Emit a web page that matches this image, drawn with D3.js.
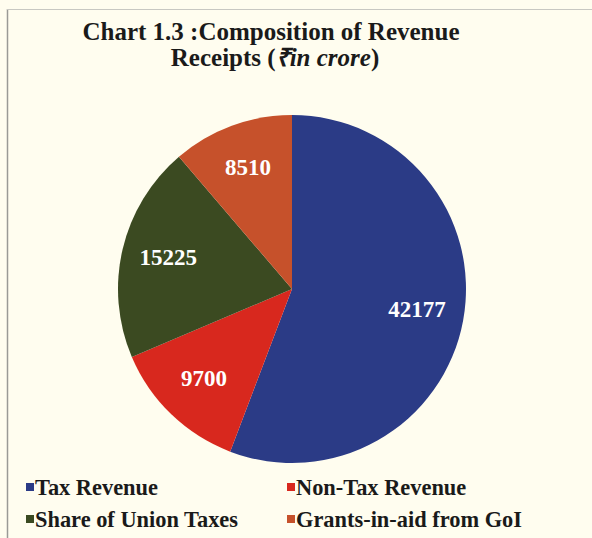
<!DOCTYPE html>
<html>
<head>
    <meta charset="utf-8">
    <title>Chart 1.3</title>
    <style>
        body { margin: 0; background: #fffdef; }
        svg { display: block; }
        .title { font-family: "Liberation Serif", "Times New Roman", serif; font-weight: bold; fill: #1a1a1a; }
        .label { font-family: "Liberation Serif", "Times New Roman", serif; font-weight: bold; fill: #ffffff; }
        .legend text { font-family: "Liberation Serif", "Times New Roman", serif; font-weight: bold; fill: #1a1a1a; }
    </style>
    <script src="https://cdn.jsdelivr.net/npm/d3@7"></script>
</head>
<body>
<script>
    const categories = ["Tax Revenue", "Non-Tax Revenue", "Share of Union Taxes", "Grants-in-aid from GoI"];
    const values = [42177, 9700, 15225, 8510];
    const colors = ["#2b3b86", "#d8281e", "#3b4a21", "#c6512b"];

    const width = 592,
        height = 538,
        cx = 292,
        cy = 289,
        radius = 174;

    const svg = d3.select('body').append('svg')
        .attr('width', width)
        .attr('height', height);

    svg.append('rect')
        .attr('width', width)
        .attr('height', height)
        .attr('fill', '#fffdef');

    // frame lines (left and top only visible)
    svg.append('line')
        .attr('x1', 7.5).attr('y1', 9).attr('x2', 7.5).attr('y2', height)
        .attr('stroke', '#9a9a96').attr('stroke-width', 1.5);
    svg.append('line')
        .attr('x1', 7).attr('y1', 9.5).attr('x2', width).attr('y2', 9.5)
        .attr('stroke', '#c8c8c2').attr('stroke-width', 1);

    // title
    const title = svg.append('text')
        .attr('class', 'title')
        .attr('text-anchor', 'middle')
        .attr('font-size', 25);
    title.append('tspan')
        .attr('x', 271).attr('y', 40)
        .text('Chart 1.3 :Composition of Revenue');
    const t2 = title.append('tspan')
        .attr('x', 275).attr('y', 66);
    t2.append('tspan').text('Receipts (');
    t2.append('tspan').attr('font-style', 'italic').text('\u20B9in crore');
    t2.append('tspan').text(')');

    const color = d3.scaleOrdinal()
        .domain(categories)
        .range(colors);

    const pie = d3.pie()
        .sort(null)
        .value(d => d.value);

    const data = categories.map((c, i) => ({ name: c, value: values[i] }));

    const arc = d3.arc()
        .innerRadius(0)
        .outerRadius(radius);

    const labelArc = d3.arc()
        .innerRadius(radius * 0.73)
        .outerRadius(radius * 0.73);

    const g = svg.append('g')
        .attr('transform', 'translate(' + cx + ',' + cy + ')');

    const slices = pie(data);

    g.selectAll('path')
        .data(slices)
        .enter().append('path')
        .attr('d', arc)
        .attr('fill', d => color(d.data.name));

    g.selectAll('text')
        .data(slices)
        .enter().append('text')
        .attr('class', 'label')
        .attr('transform', d => 'translate(' + labelArc.centroid(d) + ')')
        .attr('text-anchor', 'middle')
        .attr('dy', '0.22em')
        .attr('font-size', 23)
        .text(d => d.data.value);

    // legend, two columns
    const colX = d3.scaleOrdinal().domain([0, 1]).range([26, 287]);
    const rowY = d3.scaleOrdinal().domain([0, 1]).range([495, 527]);

    const legend = svg.append('g')
        .attr('class', 'legend')
        .selectAll('g')
        .data(categories)
        .enter().append('g')
        .attr('transform', (d, i) => 'translate(' + colX(i % 2) + ',' + rowY(Math.floor(i / 2)) + ')');

    legend.append('rect')
        .attr('x', 0)
        .attr('y', -12)
        .attr('width', 8)
        .attr('height', 8)
        .attr('fill', d => color(d));

    legend.append('text')
        .attr('x', 9)
        .attr('y', 0)
        .attr('font-size', 22.4)
        .text(d => d);
</script>
</body>
</html>
